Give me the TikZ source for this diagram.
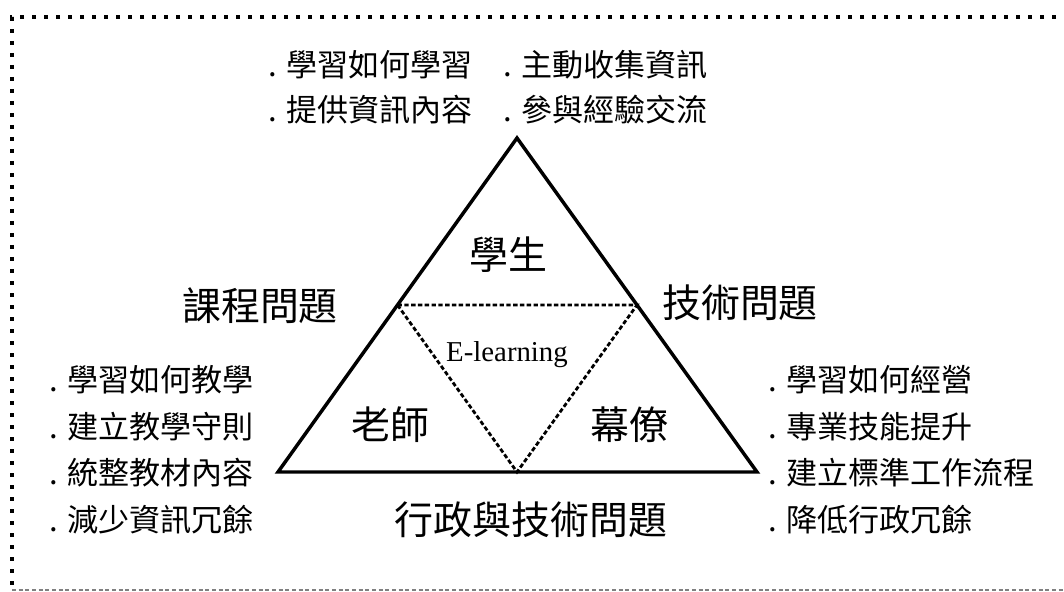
\documentclass[tikz,border=0pt]{standalone}
\usepackage{fontspec}
\setmainfont{Liberation Serif}
\newfontfamily\cjk{Noto Sans CJK TC}
\begin{document}
\begin{tikzpicture}[x=0.75pt,y=-0.75pt,
  item/.style={font=\cjk\fontsize{23.3pt}{28pt}\selectfont,anchor=west,inner sep=0pt},
  head/.style={font=\cjk\fontsize{29.2pt}{34pt}\selectfont,inner sep=0pt},
  outer/.style={line width=2.6pt,line join=miter},
  inner/.style={line width=2.1pt,dash pattern=on 3.3pt off 1.8pt},
  topframe/.style={line width=3.4pt,dash pattern=on 3.2pt off 5.8pt},
  botframe/.style={line width=1pt,gray,dash pattern=on 3pt off 2pt}]
\useasboundingbox (0,0) rectangle (1064,592);
% frame
\coordinate (f1) at (12,17);
\coordinate (f2) at (1068,17);
\coordinate (f3) at (12,590);
\coordinate (f4) at (1068,590);
\draw[topframe] (f2) -- (f1) -- (f3);
\draw[botframe] (f3) -- (f4);
% triangle
\coordinate (A) at (517,138);
\coordinate (B) at (278,472);
\coordinate (C) at (757,472);
\coordinate (AB) at (397.5,305);
\coordinate (AC) at (637,305);
\coordinate (BC) at (517,472);
\draw[inner] (AB) -- (AC) -- (BC) -- cycle;
\draw[outer] (A) -- (B) -- (C) -- cycle;
% labels inside
\node[head] (stu) at (508,255) {學生};
\node[head] (tea) at (390,425) {老師};
\node[head] (staff) at (629,425) {幕僚};
\node[inner sep=0pt,font=\fontsize{21.6pt}{25pt}\selectfont] (el) at (507,355) {E-learning};
% headings
\node[head] (h1) at (260,306) {課程問題};
\node[head] (h2) at (740,303) {技術問題};
\node[head] (h3) at (531,520) {行政與技術問題};
% top items
\node[item] (t1) at (268,65) {. 學習如何學習};
\node[item] (t2) at (503,65) {. 主動收集資訊};
\node[item] (t3) at (268,110) {. 提供資訊內容};
\node[item] (t4) at (503,110) {. 參與經驗交流};
% left items
\node[item] (l1) at (49,380) {. 學習如何教學};
\node[item] (l2) at (49,427) {. 建立教學守則};
\node[item] (l3) at (49,473) {. 統整教材內容};
\node[item] (l4) at (49,520) {. 減少資訊冗餘};
% right items
\node[item] (r1) at (768,380) {. 學習如何經營};
\node[item] (r2) at (768,427) {. 專業技能提升};
\node[item] (r3) at (768,473) {. 建立標準工作流程};
\node[item] (r4) at (768,520) {. 降低行政冗餘};
\end{tikzpicture}
\end{document}
